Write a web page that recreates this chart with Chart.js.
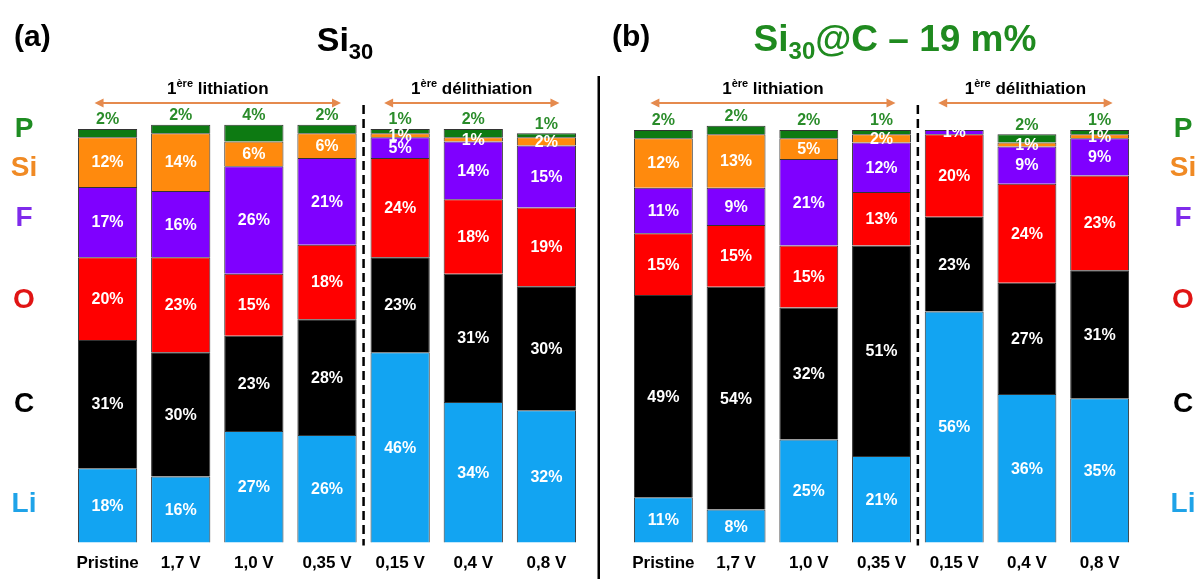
<!DOCTYPE html>
<html><head><meta charset="utf-8">
<script src="https://cdn.jsdelivr.net/npm/chart.js@4.4.1/dist/chart.umd.min.js"></script>
<style>
html,body{margin:0;padding:0;background:#fff;width:1199px;height:579px;overflow:hidden}
#wa{position:absolute;left:0;top:0;width:600px;height:579px}
#wb{position:absolute;left:600px;top:0;width:599px;height:579px}
</style></head><body>
<div id="wa"><canvas id="ca" width="600" height="579"></canvas></div>
<div id="wb"><canvas id="cb" width="599" height="579"></canvas></div>
<script>
// ---- data ----
const categories = ['Pristine', '1,7 V', '1,0 V', '0,35 V', '0,15 V', '0,4 V', '0,8 V'];
const elements = ['Li', 'C', 'O', 'F', 'Si', 'P'];

// (a) Si30
const si30_Li = [18, 16, 27, 26, 46, 34, 32];
const si30_C  = [31, 30, 23, 28, 23, 31, 30];
const si30_O  = [20, 23, 15, 18, 24, 18, 19];
const si30_F  = [17, 16, 26, 21, 5, 14, 15];
const si30_Si = [12, 14, 6, 6, 1, 1, 2];
const si30_P  = [2, 2, 4, 2, 1, 2, 1];

// (b) Si30@C – 19 m%
const sic_Li = [11, 8, 25, 21, 56, 36, 35];
const sic_C  = [49, 54, 32, 51, 23, 27, 31];
const sic_O  = [15, 15, 15, 13, 20, 24, 23];
const sic_F  = [11, 9, 21, 12, 1, 9, 9];
const sic_Si = [12, 13, 5, 2, 0, 1, 1];
const sic_P  = [2, 2, 2, 1, 0, 2, 1];

// ---- styles ----
const FONT = "'Liberation Sans', Arial, Helvetica, sans-serif";
const barColors = {Li:'#12A4F2', C:'#000000', O:'#FF0000', F:'#7F00FF', Si:'#FF8A0D', P:'#0D7A12'};
const sideColors = {P:'#1E8C22', Si:'#F08A24', F:'#7F2BEB', O:'#E01414', C:'#000000', Li:'#1FA3E8'};
const pLabelGreen = '#2A8C2A';
const arrowColor = '#E58A4E';

function makeDatasets(series) {
  return elements.map((el, i) => ({
    label: el,
    data: series[i],
    backgroundColor: barColors[el],
    borderColor: '#333333',
    borderWidth: 1,
    barPercentage: 0.81,
    categoryPercentage: 1,
    clip: false
  }));
}

const valueLabels = {
  id: 'valueLabels',
  afterDatasetsDraw(chart) {
    const ctx = chart.ctx;
    ctx.save();
    ctx.textAlign = 'center';
    ctx.textBaseline = 'middle';
    ctx.font = 'bold 16px ' + FONT;
    chart.data.datasets.forEach((ds, di) => {
      const meta = chart.getDatasetMeta(di);
      meta.data.forEach((bar, i) => {
        const v = ds.data[i];
        if (!v) return;
        if (ds.label === 'P') {
          ctx.fillStyle = pLabelGreen;
          ctx.fillText(v + '%', bar.x, bar.y - 9);
        } else {
          ctx.fillStyle = '#ffffff';
          ctx.fillText(v + '%', bar.x, (bar.y + bar.base) / 2 + 1);
        }
      });
    });
    ctx.restore();
  }
};

function drawArrow(ctx, x1, x2, y) {
  ctx.save();
  ctx.strokeStyle = arrowColor; ctx.fillStyle = arrowColor; ctx.lineWidth = 2;
  ctx.beginPath(); ctx.moveTo(x1 + 6, y); ctx.lineTo(x2 - 6, y); ctx.stroke();
  ctx.beginPath(); ctx.moveTo(x1, y); ctx.lineTo(x1 + 9, y - 4.5); ctx.lineTo(x1 + 9, y + 4.5); ctx.closePath(); ctx.fill();
  ctx.beginPath(); ctx.moveTo(x2, y); ctx.lineTo(x2 - 9, y - 4.5); ctx.lineTo(x2 - 9, y + 4.5); ctx.closePath(); ctx.fill();
  ctx.restore();
}

function drawHeader(ctx, cx, y, word) {
  ctx.save();
  ctx.fillStyle = '#000';
  ctx.textBaseline = 'alphabetic';
  ctx.textAlign = 'left';
  const big = 'bold 17px ' + FONT, small = 'bold 11px ' + FONT;
  ctx.font = big; const w1 = ctx.measureText('1').width;
  const w3 = ctx.measureText(' ' + word).width;
  ctx.font = small; const w2 = ctx.measureText('ère').width;
  let x = cx - (w1 + w2 + w3) / 2;
  ctx.font = big; ctx.fillText('1', x, y); x += w1;
  ctx.font = small; ctx.fillText('ère', x, y - 7); x += w2;
  ctx.font = big; ctx.fillText(' ' + word, x, y);
  ctx.restore();
}

const deco = {
  id: 'deco',
  afterDraw(chart, args, opts) {
    const ctx = chart.ctx;
    const xs = chart.scales.x;
    const px = i => xs.getPixelForValue(i);
    const area = chart.chartArea;
    ctx.save();
    // panel letter
    ctx.fillStyle = '#000';
    ctx.font = 'bold 30px ' + FONT;
    ctx.textAlign = 'left'; ctx.textBaseline = 'alphabetic';
    ctx.fillText(opts.letter, opts.letterX, 46);
    // title
    ctx.fillStyle = opts.titleColor;
    const tBig = 'bold ' + opts.titleSize + 'px ' + FONT, tSub = 'bold ' + Math.round(opts.titleSize * 0.64) + 'px ' + FONT;
    ctx.font = tBig; const wa = ctx.measureText('Si').width; const wc = ctx.measureText(opts.titleRest).width;
    ctx.font = tSub; const wb = ctx.measureText('30').width;
    let tx = opts.titleCX - (wa + wb + wc) / 2;
    ctx.font = tBig; ctx.fillText('Si', tx, 51); tx += wa;
    ctx.font = tSub; ctx.fillText('30', tx, 59); tx += wb;
    ctx.font = tBig; ctx.fillText(opts.titleRest, tx, 51);
    // headers and arrows
    const l1 = px(0) - 13, l2 = px(3) + 14, d1 = px(4) - 16, d2 = px(6) + 13;
    drawHeader(ctx, (l1 + l2) / 2, 94, 'lithiation');
    drawHeader(ctx, (d1 + d2) / 2, 94, 'délithiation');
    drawArrow(ctx, l1, l2, 103);
    drawArrow(ctx, d1, d2, 103);
    // dashed separator
    const sx = (px(3) + px(4)) / 2;
    ctx.strokeStyle = '#000'; ctx.lineWidth = 2.5; ctx.setLineDash([9, 5]);
    ctx.beginPath(); ctx.moveTo(sx, 105); ctx.lineTo(sx, area.bottom + 3); ctx.stroke();
    ctx.setLineDash([]);
    // side element labels
    ctx.font = 'bold 28px ' + FONT; ctx.textAlign = 'center'; ctx.textBaseline = 'middle';
    const sideY = {P:129, Si:168, F:218, O:300, C:404, Li:504};
    ['P', 'Si', 'F', 'O', 'C', 'Li'].forEach(el => {
      ctx.fillStyle = sideColors[el];
      ctx.fillText(el, opts.sideX, sideY[el]);
    });
    // vertical divider
    if (opts.divider) {
      ctx.strokeStyle = '#000'; ctx.lineWidth = 3;
      ctx.beginPath(); ctx.moveTo(opts.divider, 76); ctx.lineTo(opts.divider, 579); ctx.stroke();
    }
    ctx.restore();
  }
};

function baseOptions(padL, padR, padT, decoOpts) {
  return {
    responsive: false,
    animation: false,
    layout: {padding: {left: padL, right: padR, top: padT, bottom: -6}},
    plugins: {legend: {display: false}, tooltip: {enabled: false}, title: {display: false}, deco: decoOpts},
    scales: {
      x: {
        stacked: true,
        grid: {display: false, drawTicks: false},
        border: {display: false},
        ticks: {color: '#000', font: {family: FONT, size: 17, weight: 'bold'}, padding: 11, maxRotation: 0, autoSkip: false}
      },
      y: {stacked: true, display: false, min: 0, max: 100}
    }
  };
}

new Chart(document.getElementById('ca'), {
  type: 'bar',
  data: {labels: categories, datasets: makeDatasets([si30_Li, si30_C, si30_O, si30_F, si30_Si, si30_P])},
  options: baseOptions(71, 17, 129, {letter: '(a)', letterX: 14, titleColor: '#000', titleSize: 34, titleRest: '', titleCX: 345, sideX: 24, divider: 599}),
  plugins: [valueLabels, deco]
});

new Chart(document.getElementById('cb'), {
  type: 'bar',
  data: {labels: categories, datasets: makeDatasets([sic_Li, sic_C, sic_O, sic_F, sic_Si, sic_P])},
  options: baseOptions(27, 63, 130, {letter: '(b)', letterX: 12, titleColor: '#1F8A1F', titleSize: 37, titleRest: '@C – 19 m%', titleCX: 295, sideX: 583, divider: 0}),
  plugins: [valueLabels, deco]
});
</script>
</body></html>
